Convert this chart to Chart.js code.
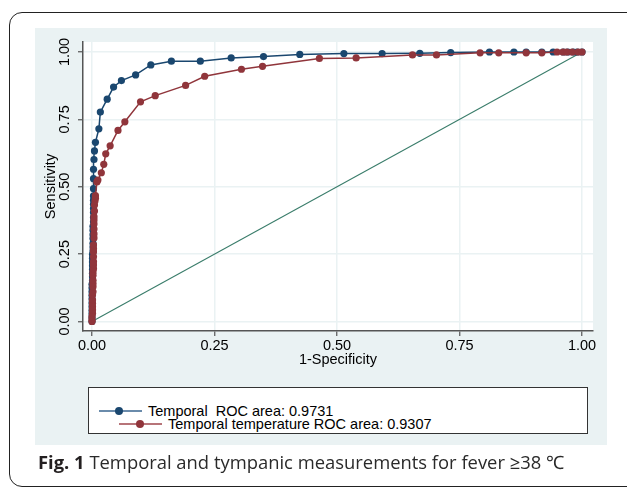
<!DOCTYPE html>
<html>
<head>
<meta charset="utf-8">
<script src="https://cdn.jsdelivr.net/npm/chart.js@4.4.1/dist/chart.umd.min.js"></script>
<style>
html,body{margin:0;padding:0;background:#fff;}
#wrap{position:relative;width:627px;height:488px;overflow:hidden;background:#fff;}
#frame{position:absolute;left:9px;top:12px;width:680px;height:475px;border:1.5px solid #222;border-radius:13px;box-sizing:border-box;}
#panel{position:absolute;left:35px;top:28px;width:572px;height:417px;background:#eaf2f3;}
#chart{position:absolute;left:0;top:0;}
#legend{position:absolute;left:88px;top:387px;width:500px;height:47px;box-sizing:border-box;border:1.5px solid #333;background:#fff;}
.lt{position:absolute;font:14.5px "Liberation Sans",Arial,sans-serif;color:#000;line-height:16px;white-space:pre;}
.ll{position:absolute;height:2px;}
.ld{position:absolute;width:8px;height:8px;border-radius:50%;}
#caption{position:absolute;left:38px;top:449px;font:18.4px "Open Sans",sans-serif;color:#2a2a2a;white-space:pre;line-height:26px;}
#caption b{font-weight:700;color:#231f20;}
</style>
</head>
<body>
<div id="wrap">
  <div id="frame"></div>
  <div id="panel"></div>
  <div id="legend"></div>
  <div class="ll" style="left:99px;top:410px;width:43px;background:#6a8bab;"></div>
  <div class="ld" style="left:115px;top:407px;background:#1a476f;"></div>
  <div class="lt" id="lg1" style="left:148px;top:403px;"></div>
  <div class="ll" style="left:119px;top:423px;width:43px;background:#b77479;"></div>
  <div class="ld" style="left:136px;top:420px;background:#90353b;"></div>
  <div class="lt" id="lg2" style="left:168px;top:416px;"></div>
  <canvas id="chart" width="627" height="488"></canvas>
  <div id="caption"><b>Fig. 1</b> Temporal and tympanic measurements for fever ≥38 ℃</div>
</div>
<script>
// ---- Data ----
const seriesNames = ['Temporal  ROC area: 0.9731', 'Temporal temperature ROC area: 0.9307'];
// Temporal: 1-specificity and sensitivity
const temporalFPR = [0,0,0,0,0,0,0,0,0,0,0,0.001,0.001,0.001,0.001,0.001,0.001,0.001,0.001,0.002,0.002,0.002,0.002,0.002,0.002,0.002,0.003,0.003,0.003,0.003,0.003,0.003,0.003,0.003,0.003,0.003,0.004,0.005,0.007,0.014,0.017,0.031,0.044,0.060,0.089,0.120,0.162,0.221,0.284,0.350,0.424,0.514,0.592,0.669,0.732,0.811,0.861,0.886,0.918,0.941,0.962,0.971,0.982,0.990,1];
const temporalTPR = [0,0.014,0.028,0.041,0.055,0.069,0.083,0.097,0.110,0.124,0.138,0.152,0.166,0.179,0.193,0.207,0.221,0.235,0.249,0.262,0.276,0.290,0.308,0.322,0.339,0.353,0.370,0.386,0.404,0.419,0.435,0.450,0.466,0.493,0.530,0.565,0.601,0.633,0.665,0.715,0.777,0.825,0.870,0.894,0.915,0.952,0.966,0.966,0.978,0.983,0.991,0.994,0.994,0.995,0.998,1,1,1,1,1,1,1,1,1,1];
// Temporal temperature
const tempTempFPR = [0,0,0,0.001,0.001,0.001,0.001,0.001,0.001,0.002,0.002,0.002,0.002,0.002,0.002,0.003,0.003,0.003,0.003,0.003,0.003,0.003,0.004,0.004,0.004,0.004,0.004,0.004,0.005,0.005,0.006,0.007,0.007,0.010,0.012,0.019,0.024,0.028,0.037,0.053,0.067,0.099,0.129,0.191,0.230,0.305,0.348,0.464,0.539,0.654,0.703,0.792,0.830,0.886,0.918,0.949,0.961,0.969,0.980,0.992,1];
const tempTempTPR = [0,0.006,0.018,0.030,0.043,0.055,0.067,0.080,0.098,0.110,0.129,0.141,0.153,0.172,0.184,0.196,0.210,0.222,0.240,0.258,0.270,0.284,0.310,0.325,0.343,0.362,0.377,0.389,0.410,0.432,0.447,0.457,0.467,0.518,0.525,0.552,0.583,0.622,0.652,0.709,0.741,0.815,0.838,0.876,0.910,0.936,0.947,0.976,0.978,0.989,0.989,0.997,0.997,0.997,0.997,1,1,1,1,1,1];
// Reference diagonal
const refX = [0, 1];
const refY = [0, 1];
// Axis ticks
const tickValues = [0, 0.25, 0.5, 0.75, 1];
const tickLabels = ['0.00', '0.25', '0.50', '0.75', '1.00'];
const xTitle = '1-Specificity';
const yTitle = 'Sensitivity';

document.getElementById('lg1').textContent = seriesNames[0];
document.getElementById('lg2').textContent = seriesNames[1];

const toPts = (xs, ys) => xs.map((x, i) => ({x: x, y: ys[i]}));

const NAVY = '#1a476f', MAROON = '#90353b', GREEN = '#3a7d6b';
const tickFont = {family: '"Liberation Sans", Arial, sans-serif', size: 14.5};

const plotBg = {
  id: 'plotBg',
  beforeDraw(chart) {
    const {ctx, chartArea: a} = chart;
    ctx.save();
    ctx.fillStyle = '#ffffff';
    ctx.fillRect(a.left, a.top, a.right - a.left, a.bottom - a.top);
    ctx.restore();
  }
};

new Chart(document.getElementById('chart'), {
  type: 'scatter',
  data: {
    datasets: [
      {label: seriesNames[1], data: toPts(tempTempFPR, tempTempTPR), showLine: true,
       borderColor: MAROON, backgroundColor: MAROON, borderWidth: 1.5,
       pointRadius: 3.6, pointBorderWidth: 0, order: 0},
      {label: seriesNames[0], data: toPts(temporalFPR, temporalTPR), showLine: true,
       borderColor: NAVY, backgroundColor: NAVY, borderWidth: 1.5,
       pointRadius: 3.6, pointBorderWidth: 0, order: 1},
      {label: 'Reference', data: toPts(refX, refY), showLine: true,
       borderColor: GREEN, borderWidth: 1.1, pointRadius: 0, order: 2}
    ]
  },
  options: {
    responsive: false,
    animation: false,
    events: [],
    layout: {padding: {left: 35, top: 42, right: 34, bottom: 115.6}},
    plugins: {legend: {display: false}, tooltip: {enabled: false}},
    scales: {
      x: {
        type: 'linear', min: -0.0184, max: 1.0224,
        afterBuildTicks: s => { s.ticks = tickValues.map(v => ({value: v})); },
        afterFit: s => { s.height = 41.4; },
        ticks: {callback: (v, i) => tickLabels[i], font: tickFont, color: '#000',
                padding: 1, maxRotation: 0, minRotation: 0, autoSkip: false},
        grid: {color: '#eaf2f3', lineWidth: 1.5, tickLength: 5, tickColor: '#555', tickWidth: 1.2},
        border: {color: '#555', width: 1.5},
        title: {display: true, text: xTitle, font: tickFont, color: '#000', padding: {top: 0, bottom: 4}}
      },
      y: {
        type: 'linear', min: -0.0353, max: 1.0371,
        afterBuildTicks: s => { s.ticks = tickValues.map(v => ({value: v})); },
        afterFit: s => { s.width = 48; },
        ticks: {callback: (v, i) => tickLabels[i], font: tickFont, color: '#000',
                padding: -1.3, minRotation: 90, maxRotation: 90, crossAlign: 'center', autoSkip: false},
        grid: {color: '#eaf2f3', lineWidth: 1.5, tickLength: 5, tickColor: '#555', tickWidth: 1.2},
        border: {color: '#555', width: 1.5},
        title: {display: true, text: yTitle, font: tickFont, color: '#000', padding: {top: 7.3, bottom: 0}}
      }
    }
  },
  plugins: [plotBg]
});
</script>
</body>
</html>
